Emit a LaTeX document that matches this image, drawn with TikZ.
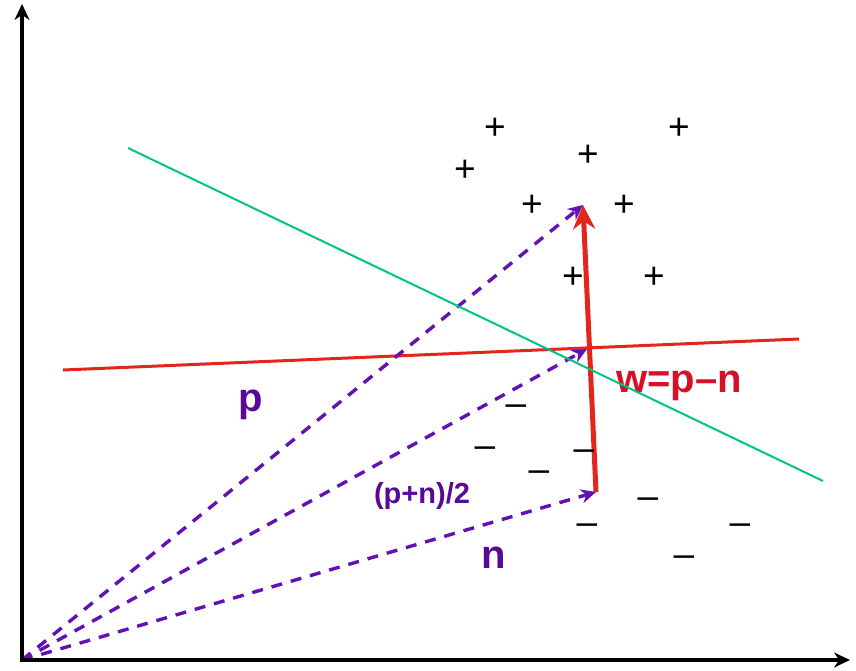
\documentclass[tikz,border=0pt]{standalone}
\usepackage{fontspec}
\setmainfont{Liberation Sans}
\usetikzlibrary{arrows.meta}
\definecolor{vpurple}{RGB}{98,18,180}
\definecolor{lpurple}{RGB}{88,10,150}
\definecolor{vred}{RGB}{226,38,28}
\definecolor{tred}{RGB}{214,16,40}
\definecolor{vgreen}{RGB}{0,196,130}
\tikzset{
  axis/.style={line width=4pt,-{Stealth[length=16pt,width=15pt]}},
  vecdash/.style={vpurple,line width=3.4pt,dash pattern=on 11pt off 9pt,-{Stealth[length=15pt,width=14pt]}},
  wvec/.style={vred,line width=5pt,-{Stealth[length=24pt,width=22pt]}},
  sep/.style={vred,line width=3pt},
  bound/.style={vgreen,line width=2pt},
  sign/.style={inner sep=0pt,font=\fontsize{37}{37}\selectfont},
  lab/.style={inner sep=0pt,font=\bfseries\fontsize{40}{40}\selectfont},
}
\begin{document}
\begin{tikzpicture}[x=1pt,y=-1pt]
\useasboundingbox (0,0) rectangle (856,671);
\coordinate (O) at (22,660);
\coordinate (Ytop) at (22,4);
\coordinate (Xend) at (850,660);
\coordinate (P) at (583,205);
\coordinate (M) at (587,349);
\coordinate (N) at (596,492);
\coordinate (R1) at (63,370);
\coordinate (R2) at (799,339);
\coordinate (G1) at (128,148);
\coordinate (G2) at (823,481);
% separating line
\draw[sep] (R1) -- (R2);
% vectors
\draw[vecdash] (O) -- (P);
\draw[vecdash] (O) -- (M);
\draw[vecdash] (O) -- (N);
\draw[wvec] (N) -- (P);
% axes
\draw[axis] ([yshift=2pt]O) -- (Ytop);
\draw[axis] ([xshift=-2pt]O) -- (Xend);
% plus signs
\foreach \i/\x/\y in {1/495/129,2/679/129,3/465/171,4/588/156,5/532/206,6/624/206,7/573/278,8/654/278}
  \node[sign] (plus\i) at (\x,\y) {+};
% minus signs
\foreach \i/\x/\y in {1/516/410,2/485/452,3/584/455,4/539/476,5/648/503,6/587/529,7/740/529,8/684/561}
  \node[sign] (minus\i) at (\x,\y) {–};
% labels
\node[lab,text=lpurple] (lp) at (251,405) {p};
\node[lab,text=lpurple] (ln) at (494,558) {n};
\node[lab,text=tred] (lw) at (679,386) {w=p–n};
\node[inner sep=0pt,text=lpurple,font=\bfseries\fontsize{29}{29}\selectfont] (lm) at (422,496) {(p+n)/2};
% decision boundary
\draw[bound] (G1) -- (G2);
\end{tikzpicture}
\end{document}
